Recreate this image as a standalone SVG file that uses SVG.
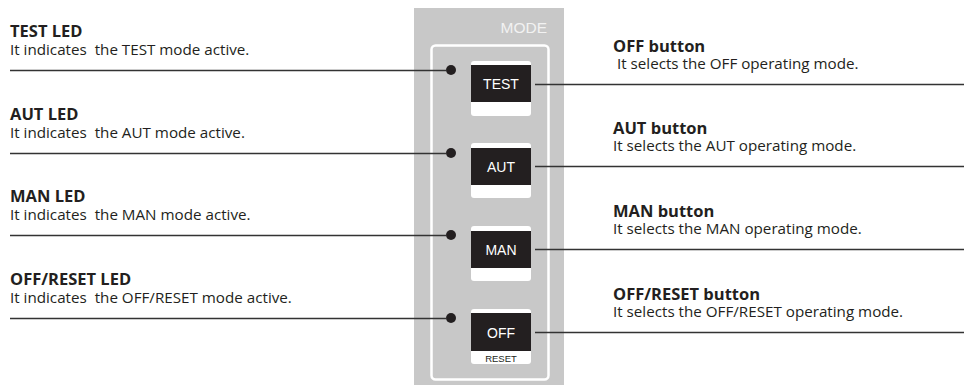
<svg xmlns="http://www.w3.org/2000/svg" width="964" height="387" viewBox="0 0 964 387">
<style>
.t{font-family:"Open Sans","Noto Sans","Liberation Sans",sans-serif;font-size:15.2px;fill:#231f20;white-space:pre}
.b{font-weight:bold;font-size:16.5px}
.k{font-family:"Liberation Sans",Arial,sans-serif;font-size:14px;fill:#fff;text-anchor:middle}
.ln{stroke:#333;stroke-width:1.6;fill:none}
.led{fill:#231f20}
.btn{fill:#fff}
.blk{fill:#231f20}
</style>
<g id="panel">
<rect x="414" y="8" width="150" height="377" fill="#c8c8c8"/>
<rect x="431.5" y="45.5" width="117" height="334" rx="4" fill="none" stroke="#fff" stroke-width="2.5"/>
<text x="547" y="33" font-family="Liberation Sans,Arial,sans-serif" font-size="15.5" fill="#f2f2f2" text-anchor="end">MODE</text>
</g>
<g id="connectors">
<path class="ln" d="M10 70.5H446M10 153.5H446M10 235.5H446M10 318.5H446"/>
<path class="ln" d="M535 84.5H964M535 166.5H964M535 249.5H964M535 332.5H964"/>
</g>
<g id="led-test"><circle class="led" cx="451" cy="70" r="5"/></g>
<g id="led-aut"><circle class="led" cx="451" cy="153" r="5"/></g>
<g id="led-man"><circle class="led" cx="451" cy="235" r="5"/></g>
<g id="led-off"><circle class="led" cx="451" cy="318" r="5"/></g>
<g id="btn-test"><rect class="btn" x="471" y="61" width="60" height="55" rx="3"/><rect class="blk" x="471" y="65" width="60" height="37"/><text class="k" x="501" y="89">TEST</text></g>
<g id="btn-aut"><rect class="btn" x="471" y="143" width="60" height="55" rx="3"/><rect class="blk" x="471" y="148" width="60" height="37"/><text class="k" x="501" y="172">AUT</text></g>
<g id="btn-man"><rect class="btn" x="471" y="226" width="60" height="55" rx="3"/><rect class="blk" x="471" y="231" width="60" height="37"/><text class="k" x="501" y="255">MAN</text></g>
<g id="btn-off"><rect class="btn" x="471" y="309" width="60" height="55" rx="3"/><rect class="blk" x="471" y="313" width="60" height="38"/><text class="k" x="501" y="338">OFF</text><text x="501" y="361.5" font-family="Liberation Sans,Arial,sans-serif" font-size="9.5" fill="#231f20" text-anchor="middle">RESET</text></g>
<g id="lbl-test-led"><text class="t b" x="10" y="37">TEST LED</text><text class="t" x="10" y="55">It indicates  the TEST mode active.</text></g>
<g id="lbl-aut-led"><text class="t b" x="10" y="120">AUT LED</text><text class="t" x="10" y="138">It indicates  the AUT mode active.</text></g>
<g id="lbl-man-led"><text class="t b" x="10" y="202">MAN LED</text><text class="t" x="10" y="220">It indicates  the MAN mode active.</text></g>
<g id="lbl-off-led"><text class="t b" x="10" y="285">OFF/RESET LED</text><text class="t" x="10" y="303">It indicates  the OFF/RESET mode active.</text></g>
<g id="lbl-off-btn"><text class="t b" x="613" y="52">OFF button</text><text class="t" x="613" y="69"> It selects the OFF operating mode.</text></g>
<g id="lbl-aut-btn"><text class="t b" x="613" y="134">AUT button</text><text class="t" x="613" y="151">It selects the AUT operating mode.</text></g>
<g id="lbl-man-btn"><text class="t b" x="613" y="217">MAN button</text><text class="t" x="613" y="234">It selects the MAN operating mode.</text></g>
<g id="lbl-offreset-btn"><text class="t b" x="613" y="300">OFF/RESET button</text><text class="t" x="613" y="317">It selects the OFF/RESET operating mode.</text></g>
</svg>
